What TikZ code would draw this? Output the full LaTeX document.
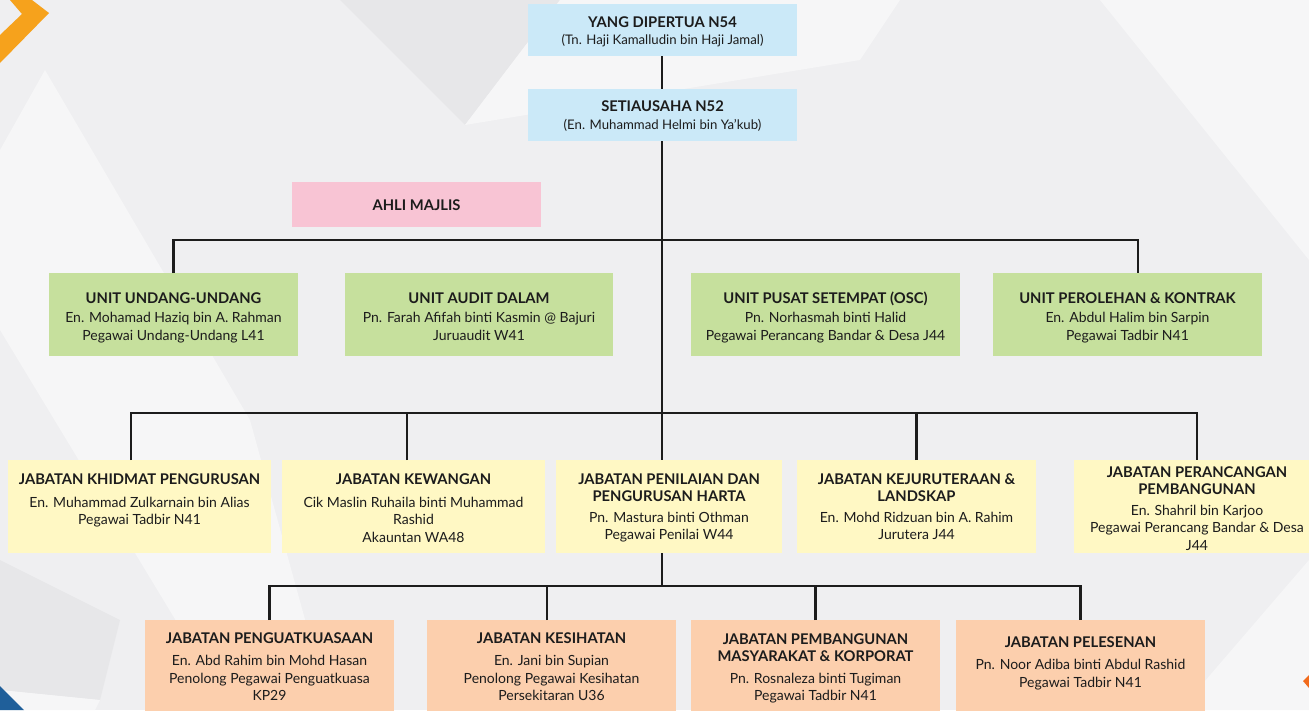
\documentclass[tikz,border=0pt]{standalone}
\usepackage{fontspec}
\setmainfont{Lato}
\usetikzlibrary{calc}
\definecolor{bgbase}{HTML}{EFEFF1}
\definecolor{bglight}{HTML}{F6F6F7}
\definecolor{bgdark}{HTML}{E7E7E9}
\definecolor{cblue}{HTML}{CBE9F8}
\definecolor{cpink}{HTML}{F8C4D4}
\definecolor{cgreen}{HTML}{C6E09D}
\definecolor{cyellow}{HTML}{FFF8C4}
\definecolor{corange}{HTML}{FCCFAD}
\definecolor{chev}{HTML}{F6A21C}
\definecolor{dblue}{HTML}{1F5F9A}
\definecolor{dorange}{HTML}{F26B1D}
\definecolor{ink}{HTML}{1C1C1C}
\tikzset{
  orgbox/.style={rectangle, inner sep=0pt, outer sep=0pt, draw=none},
  conn/.style={draw=ink, line width=2.4pt},
  txt/.style={inner sep=0pt, outer sep=0pt, align=center, anchor=north, text=ink,
    font=\fontsize{14}{17.5}\selectfont},
}
\newcommand{\ttl}[1]{{\fontsize{14.75}{18}\selectfont\bfseries #1}}
\newcommand{\subt}[1]{{\fontsize{13.2}{18}\selectfont #1}}
\newcommand{\fs}{\rule{0pt}{12pt}}
\begin{document}
\begin{tikzpicture}[x=1pt,y=-1pt]
\useasboundingbox (0,0) rectangle (1309,710);
\clip (0,0) rectangle (1309,710);
% background
\fill[bgbase] (0,0) rectangle (1309,710);
\fill[bglight] (0,150) -- (45,70) -- (250,420) -- (330,710) -- (230,710) -- (0,330) -- cycle;
\fill[bgdark] (340,0) -- (465,125) -- (560,0) -- cycle;
\fill[bglight] (560,0) -- (465,125) -- (860,60) -- (900,0) -- cycle;
\fill[bgdark] (0,560) -- (120,620) -- (100,700) -- (0,690) -- cycle;
\fill[bglight] (0,690) -- (100,700) -- (95,710) -- (0,710) -- cycle;
\fill[bglight] (1100,0) -- (1309,0) -- (1309,260) -- cycle;
\fill[bglight] (1309,560) -- (1309,710) -- (1180,710) -- cycle;
\fill[chev] (10,0) -- (32,0) -- (49,13) -- (0,63) -- (0,35) -- (22,14) -- cycle;
\fill[dblue] (0,686) -- (24,710) -- (0,710) -- cycle;
\fill[dorange] (1303,681) -- (1309,675) -- (1309,688) -- cycle;

% boxes
\node[orgbox, fill=cblue, minimum width=269pt, minimum height=52pt] (yang) at (662.5,30) {};
\node[orgbox, fill=cblue, minimum width=269pt, minimum height=52pt] (seti) at (662.5,115) {};
\node[orgbox, fill=cpink, minimum width=249pt, minimum height=45pt] (ahli) at (416.5,204.5) {};

\node[orgbox, fill=cgreen, minimum width=249pt, minimum height=83pt] (g1) at (173.5,314.5) {};
\node[orgbox, fill=cgreen, minimum width=268pt, minimum height=83pt] (g2) at (479,314.5) {};
\node[orgbox, fill=cgreen, minimum width=269pt, minimum height=83pt] (g3) at (825.5,314.5) {};
\node[orgbox, fill=cgreen, minimum width=269pt, minimum height=83pt] (g4) at (1127.5,314.5) {};

\node[orgbox, fill=cyellow, minimum width=263pt, minimum height=93pt] (y1) at (139.5,506.5) {};
\node[orgbox, fill=cyellow, minimum width=263pt, minimum height=93pt] (y2) at (413.5,506.5) {};
\node[orgbox, fill=cyellow, minimum width=226pt, minimum height=93pt] (y3) at (669,506.5) {};
\node[orgbox, fill=cyellow, minimum width=239pt, minimum height=93pt] (y4) at (916.5,506.5) {};
\node[orgbox, fill=cyellow, minimum width=246pt, minimum height=93pt] (y5) at (1197,506.5) {};

\node[orgbox, fill=corange, minimum width=249pt, minimum height=100pt] (o1) at (269.5,670) {};
\node[orgbox, fill=corange, minimum width=249pt, minimum height=100pt] (o2) at (551.5,670) {};
\node[orgbox, fill=corange, minimum width=249pt, minimum height=100pt] (o3) at (815.5,670) {};
\node[orgbox, fill=corange, minimum width=249pt, minimum height=100pt] (o4) at (1080.5,670) {};

% texts
\node[txt] (tyang) at (662.5,15) {\fs\ttl{YANG DIPERTUA N54}\\\subt{(Tn. Haji Kamalludin bin Haji Jamal)}};
\node[txt] (tseti) at (662.5,99) {\fs\ttl{SETIAUSAHA N52}\\[1pt]\subt{(En. Muhammad Helmi bin Ya'kub)}};
\node[txt] (tahli) at (416.5,198) {\fs\ttl{AHLI MAJLIS}};

\node[txt] (tg1) at (173.5,291) {\fs\ttl{UNIT UNDANG-UNDANG}\\[2pt]En. Mohamad Haziq bin A. Rahman\\Pegawai Undang-Undang L41};
\node[txt] (tg2) at (479,291) {\fs\ttl{UNIT AUDIT DALAM}\\[2pt]Pn. Farah Afifah binti Kasmin @ Bajuri\\Juruaudit W41};
\node[txt] (tg3) at (825.5,291) {\fs\ttl{UNIT PUSAT SETEMPAT (OSC)}\\[2pt]Pn. Norhasmah binti Halid\\Pegawai Perancang Bandar \& Desa J44};
\node[txt] (tg4) at (1127.5,291) {\fs\ttl{UNIT PEROLEHAN \& KONTRAK}\\[2pt]En. Abdul Halim bin Sarpin\\Pegawai Tadbir N41};

\node[txt] (ty1) at (139.5,472) {\fs\ttl{JABATAN KHIDMAT PENGURUSAN}\\[5.5pt]En. Muhammad Zulkarnain bin Alias\\Pegawai Tadbir N41};
\node[txt] (ty2) at (413.5,472) {\fs\ttl{JABATAN KEWANGAN}\\[5.5pt]Cik Maslin Ruhaila binti Muhammad\\Rashid\\Akauntan WA48};
\node[txt] (ty3) at (669,472) {\fs\ttl{JABATAN PENILAIAN DAN}\\\ttl{PENGURUSAN HARTA}\\[3pt]Pn. Mastura binti Othman\\Pegawai Penilai W44};
\node[txt] (ty4) at (916.5,472) {\fs\ttl{JABATAN KEJURUTERAAN \&}\\\ttl{LANDSKAP}\\[3pt]En. Mohd Ridzuan bin A. Rahim\\Jurutera J44};
\node[txt] (ty5) at (1197,465) {\fs\ttl{JABATAN PERANCANGAN}\\\ttl{PEMBANGUNAN}\\[3pt]En. Shahril bin Karjoo\\Pegawai Perancang Bandar \& Desa\\J44};

\node[txt] (to1) at (269.5,631) {\fs\ttl{JABATAN PENGUATKUASAAN}\\[5pt]En. Abd Rahim bin Mohd Hasan\\Penolong Pegawai Penguatkuasa\\KP29};
\node[txt] (to2) at (551.5,631) {\fs\ttl{JABATAN KESIHATAN}\\[5pt]En. Jani bin Supian\\Penolong Pegawai Kesihatan\\Persekitaran U36};
\node[txt] (to3) at (815.5,632) {\fs\ttl{JABATAN PEMBANGUNAN}\\\ttl{MASYARAKAT \& KORPORAT}\\[4pt]Pn. Rosnaleza binti Tugiman\\Pegawai Tadbir N41};
\node[txt] (to4) at (1080.5,635) {\fs\ttl{JABATAN PELESENAN}\\[5pt]Pn. Noor Adiba binti Abdul Rashid\\Pegawai Tadbir N41};

% connectors
\coordinate (bus1) at (662,240);
\coordinate (bus2) at (662,413);
\coordinate (bus3) at (662,586);
\draw[conn] (bus1 |- yang.south) -- (bus1 |- seti.north);
\draw[conn] (bus1 |- seti.south) -- (bus1 |- y3.north);
\draw[conn] (bus3 |- y3.south) -- (bus3);
\draw[conn] (g1.north) -- (g1.north |- bus1) -| ([xshift=10.5pt]g4.north);
\draw[conn] ([xshift=-8.5pt]y1.north) -- ([xshift=-8.5pt]y1.north |- bus2) -| (y5.north);
\draw[conn] ([xshift=-6.5pt]y2.north) -- ([xshift=-6.5pt]y2.north |- bus2);
\draw[conn] (y4.north) -- (y4.north |- bus2);
\draw[conn] (o1.north) -- (o1.north |- bus3) -| (o4.north);
\draw[conn] ([xshift=-4.5pt]o2.north) -- ([xshift=-4.5pt]o2.north |- bus3);
\draw[conn] (o3.north) -- (o3.north |- bus3);
\end{tikzpicture}
\end{document}
